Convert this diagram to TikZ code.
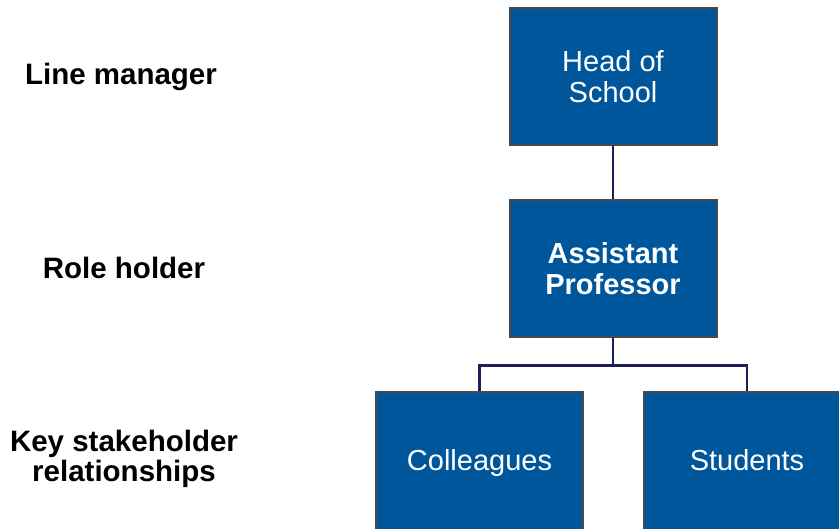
\documentclass[tikz,border=0pt]{standalone}
\usepackage{fontspec}
\setmainfont{Liberation Sans}
\definecolor{roleblue}{HTML}{00569A}
\definecolor{roleedge}{HTML}{4A4A4A}
\definecolor{roleline}{HTML}{1E1D5C}

\begin{document}
\begin{tikzpicture}[x=1pt,y=-1pt]
            \tikzset{rolebox/.style={draw=roleedge,line width=2pt,fill=roleblue,text=white,
                minimum width=207pt,minimum height=137pt,align=center,
                font=\fontsize{29}{31}\selectfont},
              lowbox/.style={rolebox,minimum height=141pt,text height=21pt,text depth=6pt},
              levellabel/.style={align=center,font=\fontsize{29.5}{30}\selectfont\bfseries},
              orgline/.style={draw=roleline,line width=2.6pt}}
            \useasboundingbox (0,0) rectangle (839,529);
            \clip (0,0) rectangle (839,529);
            % levels
            \node [levellabel] (lineman) at (121,77) {Line manager};
            \node [levellabel] (holder) at (124,268) {Role holder};
            \node [levellabel] (stake) at (124,459) {Key stakeholder\\relationships};
            % boxes
            \node [rolebox] (head) at (613,77) {Head of\\School};
            \node [rolebox,font=\fontsize{29}{31}\selectfont\bfseries] (asst) at (613,269) {Assistant\\Professor};
            \node [lowbox] (coll) at (479.5,463) {Colleagues};
            \node [lowbox] (stud) at (747,463) {Students};
            % lines
            \draw [orgline] (head.south) -- (asst.north);
            \draw [orgline] (asst.south) -- ++(0,27) coordinate (fork);
            \draw [orgline] (fork) -| (coll.north);
            \draw [orgline] (fork) -| (stud.north);
        \end{tikzpicture}
\end{document}
